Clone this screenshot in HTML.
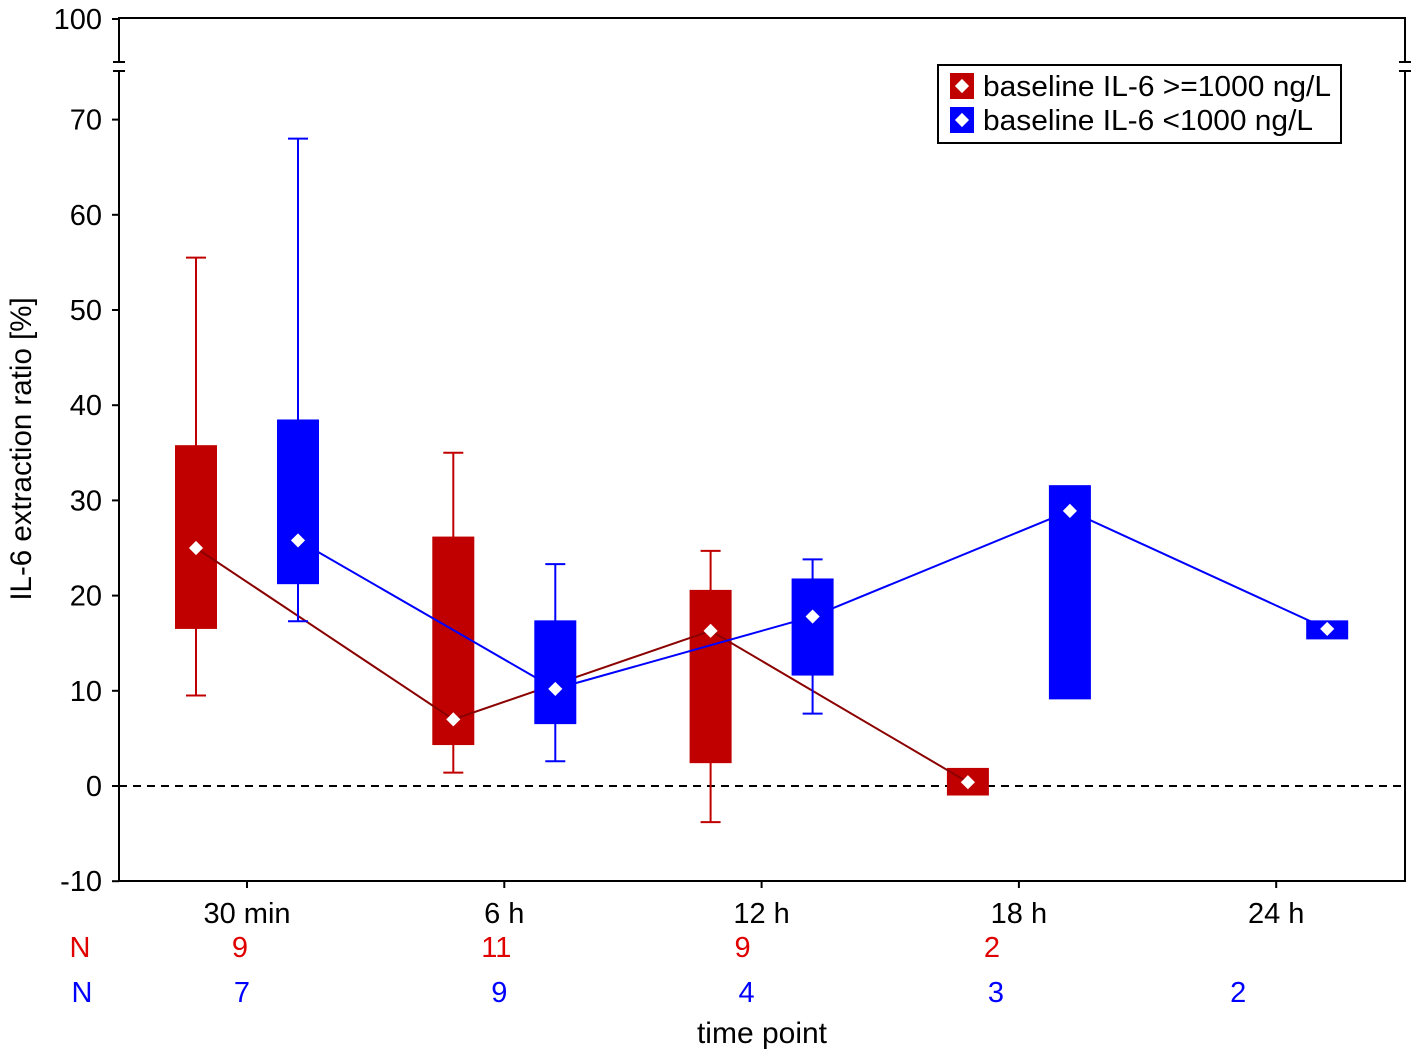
<!DOCTYPE html>
<html><head><meta charset="utf-8"><style>
body{margin:0;background:#fff}
svg text{font-family:"Liberation Sans",sans-serif}
</style></head><body>
<svg id="c" width="1418" height="1056">
</svg>
<script>
const categories=["30 min","6 h","12 h","18 h","24 h"];
const redWhiskLo=[9.5,1.4,-3.8,null,null];
const redWhiskHi=[55.5,35,24.7,null,null];
const redBoxLo=[16.5,4.3,2.4,-1,null];
const redBoxHi=[35.8,26.2,20.6,1.9,null];
const redMid=[25,7,16.3,0.4,null];
const blueWhiskLo=[17.3,2.6,7.6,null,null];
const blueWhiskHi=[68,23.3,23.8,null,null];
const blueBoxLo=[21.2,6.5,11.6,9.1,15.4];
const blueBoxHi=[38.5,17.4,21.8,31.6,17.4];
const blueMid=[25.8,10.2,17.8,28.9,16.5];
const redN=[9,11,9,2,null];
const blueN=[7,9,4,3,2];
const yTicks=[-10,0,10,20,30,40,50,60,70];

const svg=document.getElementById('c');
const NS='http://www.w3.org/2000/svg';
function y(v){return 786-v*9.52;}
function x(i){return 247+i*257.3;}
const redNOff=[-7,-8,-19,-27,0];
const blueNOff=[-5,-5,-15,-23,-38];
function mk(tag,attrs,name,parent){const e=document.createElementNS(NS,tag);for(const k in attrs)e.setAttribute(k,attrs[k]);


(parent||svg).appendChild(e);return e;}
function txt(s,xx,yy,attrs,name){const t=mk('text',Object.assign({x:xx,y:yy},attrs),name);t.textContent=s;return t;}

mk('rect',{x:119,y:18,width:1286,height:863,fill:'none',stroke:'#000','stroke-width':2},'plot-frame');
mk('rect',{x:110,y:62,width:20,height:9,fill:'#fff'},'axis-break-left');
mk('rect',{x:1396,y:62,width:20,height:9,fill:'#fff'},'axis-break-right');
[[113,125],[1399,1411]].forEach(([a,b])=>{
 mk('line',{x1:a,x2:b,y1:62,y2:62,stroke:'#000','stroke-width':2},'break-mark');
 mk('line',{x1:a,x2:b,y1:71,y2:71,stroke:'#000','stroke-width':2},'break-mark');
});
yTicks.forEach(v=>{
 mk('line',{x1:112,x2:119,y1:y(v),y2:y(v),stroke:'#000','stroke-width':2},'y-tick');
 txt(String(v),102,y(v)+10,{'font-size':29,'text-anchor':'end'},'y-tick-label');
});
mk('line',{x1:112,x2:119,y1:19,y2:19,stroke:'#000','stroke-width':2},'y-tick');
txt('100',102,29,{'font-size':29,'text-anchor':'end'},'y-tick-label');
txt('IL-6 extraction ratio [%]',0,0,{'font-size':29.5,'text-anchor':'middle',transform:'translate(31,449) rotate(-90)'},'y-axis-title');
mk('line',{x1:119,x2:1405,y1:y(0),y2:y(0),stroke:'#000','stroke-width':2,'stroke-dasharray':'8,6'},'zero-line');
categories.forEach((c,i)=>{
 mk('line',{x1:x(i),x2:x(i),y1:881,y2:888,stroke:'#000','stroke-width':2},'x-tick');
 txt(c,x(i),923,{'font-size':29,'text-anchor':'middle'},'x-tick-label');
});
txt('N',80,957,{'font-size':29,'text-anchor':'middle',fill:'#e00000'},'n-label-red');
txt('N',82,1002,{'font-size':29,'text-anchor':'middle',fill:'#0000ff'},'n-label-blue');
redN.forEach((n,i)=>{if(n!=null)txt(String(n),x(i)+redNOff[i],957,{'font-size':29,'text-anchor':'middle',fill:'#e00000'},'n-red');});
blueN.forEach((n,i)=>{if(n!=null)txt(String(n),x(i)+blueNOff[i],1002,{'font-size':29,'text-anchor':'middle',fill:'#0000ff'},'n-blue');});
txt('time point',762,1043,{'font-size':30,'text-anchor':'middle'},'x-axis-title');

function series(off,wl,wh,bl,bh,md,col,lineCol,nm){
 const pts=[];
 md.forEach((m,i)=>{if(m!=null)pts.push((x(i)+off)+','+y(m));});
 const cx=i=>x(i)+off;
 wl.forEach((v,i)=>{if(v==null)return;
  mk('line',{x1:cx(i),x2:cx(i),y1:y(wh[i]),y2:y(v),stroke:col,'stroke-width':2},nm+'-whisker');
  mk('line',{x1:cx(i)-10,x2:cx(i)+10,y1:y(wh[i]),y2:y(wh[i]),stroke:col,'stroke-width':2},nm+'-whisker-cap');
  mk('line',{x1:cx(i)-10,x2:cx(i)+10,y1:y(v),y2:y(v),stroke:col,'stroke-width':2},nm+'-whisker-cap');
 });
 bl.forEach((v,i)=>{if(v==null)return;
  mk('rect',{x:cx(i)-21,y:y(bh[i]),width:42,height:y(v)-y(bh[i]),fill:col},nm+'-box');
 });
 mk('polyline',{points:pts.join(' '),fill:'none',stroke:lineCol,'stroke-width':2},nm+'-line');
 md.forEach((m,i)=>{if(m==null)return;
  mk('rect',{x:cx(i)-5,y:y(m)-5,width:10,height:10,fill:'#fff',transform:`rotate(45 ${cx(i)} ${y(m)})`},nm+'-median-marker');
 });
}
series(-51,redWhiskLo,redWhiskHi,redBoxLo,redBoxHi,redMid,'#c00000','#8b0000','red');
series(51,blueWhiskLo,blueWhiskHi,blueBoxLo,blueBoxHi,blueMid,'#0000ff','#0000ff','blue');

const lg=mk('g',{},'legend');
mk('rect',{x:938,y:65,width:403,height:78,fill:'#fff',stroke:'#000','stroke-width':2},'legend-box',lg);
[['baseline IL-6 >=1000 ng/L','#c00000',86,348],['baseline IL-6 <1000 ng/L','#0000ff',120,330]].forEach(([l,c,yy,w])=>{
 mk('rect',{x:950,y:yy-13,width:24,height:26,fill:c},'legend-swatch',lg);
 mk('rect',{x:957,y:yy-5,width:10,height:10,fill:'#fff',transform:`rotate(45 962 ${yy})`},'legend-marker',lg);
 const t=mk('text',{x:983,y:yy+10,'font-size':29,textLength:w,lengthAdjust:'spacingAndGlyphs'},'legend-entry',lg);t.textContent=l;
});
</script>
</body></html>
